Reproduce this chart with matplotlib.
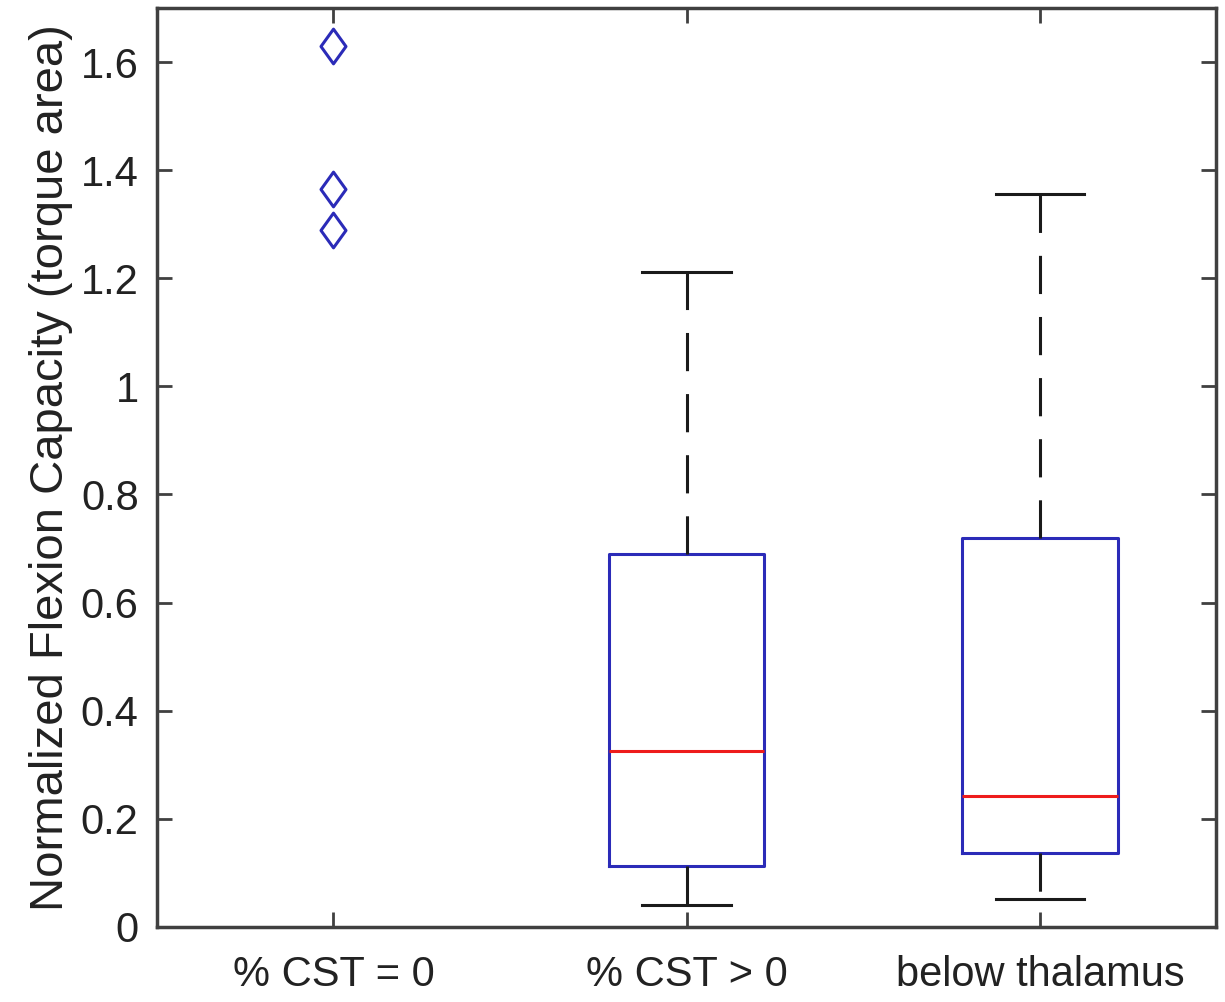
import matplotlib
matplotlib.use("Agg")
import matplotlib.pyplot as plt
from matplotlib.path import Path

plt.rcParams['font.family'] = ['Liberation Sans', 'DejaVu Sans']

# groups and box statistics
groups = ['% CST = 0', '% CST > 0', 'below thalamus']
q1 = [0.0, 0.113, 0.137]
medians = [0.0, 0.326, 0.243]
q3 = [0.0, 0.689, 0.719]
whisk_lo = [0.0, 0.041, 0.052]
whisk_hi = [0.0, 1.211, 1.356]
outliers = [[1.63, 1.365, 1.29], [], []]

box_blue = '#2b2bb8'

# tall narrow diamond like MATLAB's 'd' marker
diamond = Path([(0, 1), (0.72, 0), (0, -1), (-0.72, 0), (0, 1)],
               [Path.MOVETO, Path.LINETO, Path.LINETO, Path.LINETO, Path.CLOSEPOLY])

fig = plt.figure(figsize=(12.25, 10.02), dpi=100)
ax = fig.add_axes([0.128, 0.075, 0.865, 0.917])

stats = []
for i in range(len(groups)):
    stats.append(dict(med=medians[i], q1=q1[i], q3=q3[i],
                      whislo=whisk_lo[i], whishi=whisk_hi[i],
                      fliers=outliers[i], label=groups[i]))

positions = list(range(1, len(groups) + 1))
art = ax.bxp(stats, positions=positions, widths=0.44, capwidths=0.25,
             boxprops=dict(color=box_blue, linewidth=2.2),
             medianprops=dict(color='#ee1c1c', linewidth=2.2),
             whiskerprops=dict(color='#1a1a1a', linewidth=2.2, linestyle=(0, (12.5, 7.5))),
             capprops=dict(color='#1a1a1a', linewidth=2.2),
             flierprops=dict(marker=diamond, markersize=25, markerfacecolor='none',
                             markeredgecolor=box_blue, markeredgewidth=2.2, linestyle='none'))

# first group has no box drawn (all inliers at zero)
for key in ['boxes', 'medians']:
    art[key][0].set_visible(False)
for w in art['whiskers'][0:2] + art['caps'][0:2]:
    w.set_visible(False)

ax.set_xlim(0.5, 3.5)
ax.set_ylim(0, 1.7)
ax.set_yticks([0, 0.2, 0.4, 0.6, 0.8, 1, 1.2, 1.4, 1.6])
ax.set_yticklabels(['0', '0.2', '0.4', '0.6', '0.8', '1', '1.2', '1.4', '1.6'])
ax.set_xticks(positions)
ax.set_xticklabels(groups)
ax.tick_params(direction='in', length=11, width=2, colors='#404040',
               labelsize=30, labelcolor='#222222', top=True, right=True, pad=13)
ax.tick_params(axis='x', pad=20)
for s in ax.spines.values():
    s.set_linewidth(2.5)
    s.set_color('#404040')

ax.set_ylabel('Normalized Flexion Capacity (torque area)', fontsize=34,
              color='#222222', labelpad=6)

fig.savefig('out.png', dpi=100)
